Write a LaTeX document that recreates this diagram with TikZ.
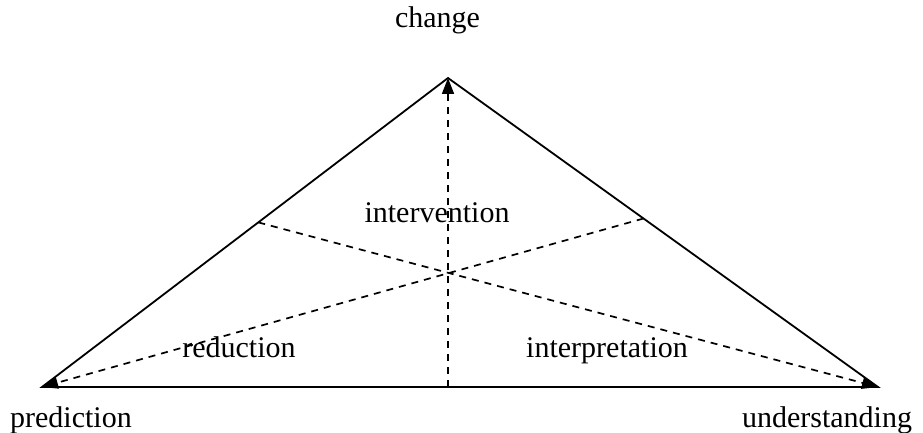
\documentclass[tikz,border=0pt]{standalone}
\usepackage{fontspec}
\setmainfont{Liberation Serif}
\usetikzlibrary{arrows.meta,calc}
\begin{document}
\begin{tikzpicture}[x=1pt,y=-1pt,
  edge/.style={line width=1.8pt},
  guide/.style={line width=1.7pt,dash pattern=on 7pt off 6pt,-{Triangle[length=16pt,width=12pt]}},
  lbl/.style={anchor=base,inner sep=0pt,font=\fontsize{30}{36}\selectfont}]
\useasboundingbox (0,0) rectangle (923,433);
% triangle corners and the points where the guides meet the sides
\coordinate (A) at (448,78);
\coordinate (L) at (42,387);
\coordinate (R) at (878,387);
\coordinate (M) at (448,387);
\coordinate (P) at (258.3,222.4);
\coordinate (Q) at (643.5,218.5);
% outline
\draw[edge] (L) -- (A) -- (R) -- cycle;
% dashed guides through the centre
\draw[guide] (M) -- (A);
\draw[guide] (Q) -- (L);
\draw[guide] (P) -- (R);
% labels
\node[lbl] (change) at (437.5,28) {change};
\node[lbl] (prediction) at (71,427) {prediction};
\node[lbl] (understanding) at (827,427) {understanding};
\node[lbl] (intervention) at (437,222) {intervention};
\node[lbl] (reduction) at (239,357) {reduction};
\node[lbl] (interpretation) at (607,357) {interpretation};
\end{tikzpicture}
\end{document}
